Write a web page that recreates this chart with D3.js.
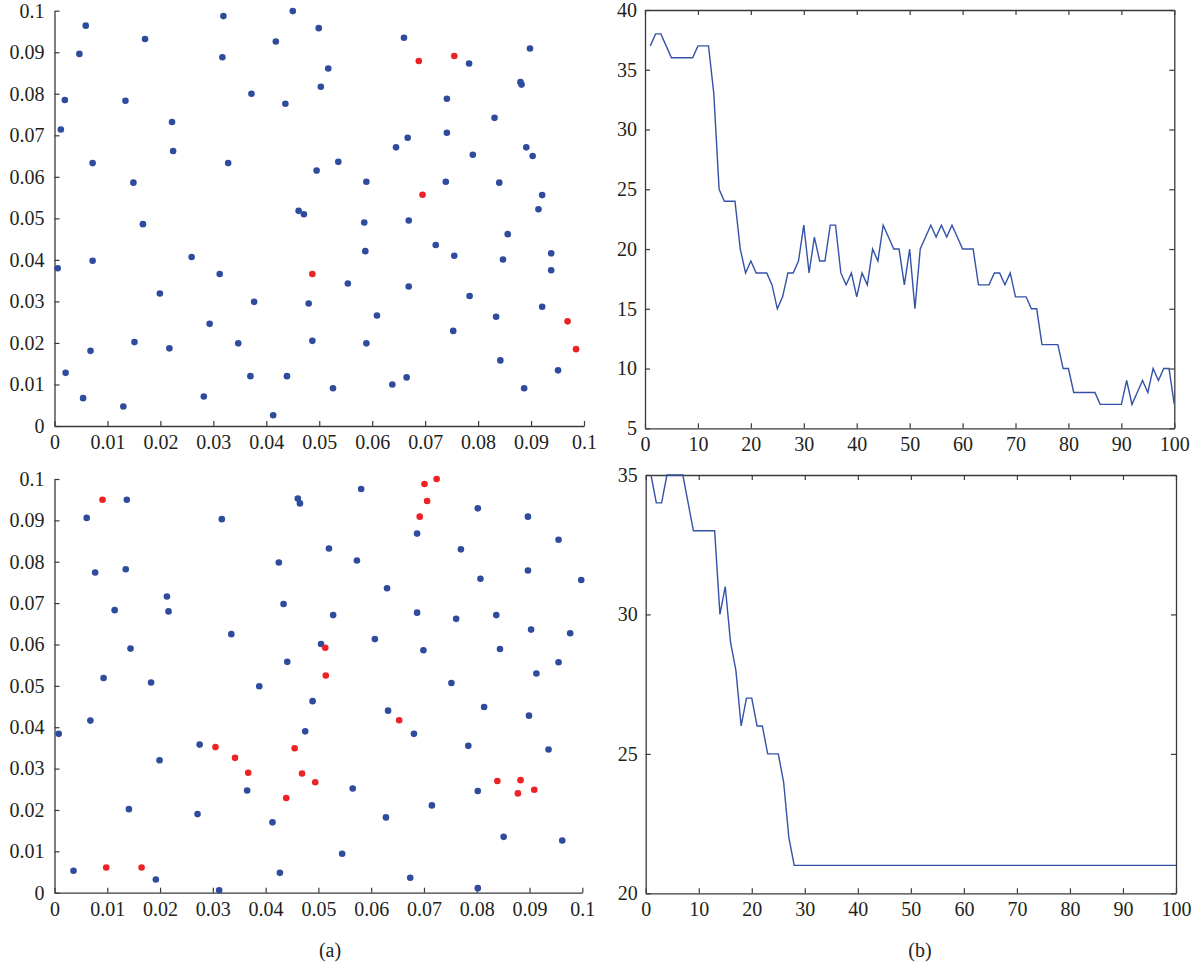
<!DOCTYPE html>
<html>
<head>
<meta charset="utf-8">
<script src="https://cdn.jsdelivr.net/npm/d3@7"></script>
<style>
  body { margin: 0; background: #fff; }
  svg text { font-family: "Liberation Serif", "Times New Roman", Times, "DejaVu Serif", serif; fill: #231f20; }
</style>
</head>
<body>
<svg id="chart" width="1202" height="970"></svg>
<script>
// ---- data: top-left scatter (x, y) ----
const topBlue = [
  [0.0012,0.0714],[0.00195,0.0785],[0.0047,0.0896],[0.0059,0.0964],[0.0072,0.0633],
  [0.0171,0.0932],[0.0134,0.0783],[0.0149,0.0586],[0.0222,0.0732],[0.0224,0.0662],
  [0.0167,0.0486],[0.0319,0.0987],[0.0317,0.0888],[0.0328,0.0633],[0.0372,0.0800],
  [0.0418,0.0926],[0.0436,0.0776],[0.0450,0.0999],[0.0461,0.0518],[0.0471,0.0510],
  [0.0495,0.0615],[0.0499,0.0958],[0.0517,0.0861],[0.0503,0.0817],[0.0660,0.0935],
  [0.0783,0.0873],[0.0898,0.0909],[0.0880,0.0828],[0.0882,0.0822],[0.0741,0.0788],
  [0.0831,0.0742],[0.0741,0.0706],[0.0667,0.0694],[0.0645,0.0671],[0.0891,0.0671],
  [0.0903,0.0650],[0.0790,0.0653],[0.0536,0.0636],[0.0589,0.0588],[0.0739,0.0588],
  [0.0840,0.0586],[0.0921,0.0556],[0.0914,0.0522],[0.0585,0.0490],[0.0669,0.0495],
  [0.0006,0.0380],[0.0072,0.0398],[0.0259,0.0407],[0.0199,0.0319],[0.0312,0.0366],
  [0.0377,0.0299],[0.0480,0.0295],[0.0487,0.0205],[0.0293,0.0246],[0.0151,0.0202],
  [0.0217,0.0187],[0.0068,0.0181],[0.0347,0.0199],[0.0021,0.0128],[0.0370,0.0120],
  [0.0439,0.0120],[0.0054,0.0067],[0.0282,0.0071],[0.0130,0.0047],[0.0413,0.0026],
  [0.0856,0.0462],[0.0720,0.0436],[0.0587,0.0421],[0.0755,0.0410],[0.0847,0.0401],
  [0.0938,0.0416],[0.0938,0.0375],[0.0554,0.0343],[0.0669,0.0336],[0.0784,0.0313],
  [0.0921,0.0287],[0.0609,0.0266],[0.0834,0.0263],[0.0753,0.0229],[0.0589,0.0199],
  [0.0842,0.0158],[0.0951,0.0134],[0.0665,0.0117],[0.0638,0.0100],[0.0526,0.0091],
  [0.0887,0.0091]
];
const topRed = [
  [0.0688,0.0879],[0.0755,0.0891],[0.0695,0.0557],[0.0487,0.0366],[0.0969,0.0252],[0.0985,0.0185]
];

// ---- data: bottom-left scatter (x, y) ----
const bottomBlue = [
  [0.0137,0.0950],[0.0061,0.0906],[0.0317,0.0903],[0.0461,0.0953],[0.0465,0.0941],
  [0.0077,0.0774],[0.0135,0.0782],[0.0425,0.0798],[0.0213,0.0716],[0.0216,0.0680],
  [0.0114,0.0683],[0.0434,0.0698],[0.0335,0.0625],[0.0144,0.0590],[0.0441,0.0558],
  [0.0093,0.0519],[0.0183,0.0508],[0.0388,0.0499],[0.0505,0.0601],[0.0581,0.0976],
  [0.0687,0.0868],[0.0802,0.0929],[0.0897,0.0909],[0.0955,0.0853],[0.0520,0.0832],
  [0.0573,0.0803],[0.0770,0.0830],[0.0897,0.0779],[0.0998,0.0756],[0.0807,0.0759],
  [0.0630,0.0736],[0.0528,0.0671],[0.0687,0.0677],[0.0761,0.0662],[0.0837,0.0671],
  [0.0903,0.0636],[0.0977,0.0627],[0.0607,0.0613],[0.0699,0.0586],[0.0844,0.0589],
  [0.0955,0.0557],[0.0913,0.0530],[0.0752,0.0507],[0.0008,0.0384],[0.0068,0.0416],
  [0.0489,0.0463],[0.0475,0.0390],[0.0275,0.0358],[0.0199,0.0320],[0.0365,0.0247],
  [0.0141,0.0202],[0.0271,0.0190],[0.0413,0.0170],[0.0036,0.0053],[0.0192,0.0032],
  [0.0312,0.0006],[0.0427,0.0048],[0.0632,0.0440],[0.0681,0.0384],[0.0814,0.0449],
  [0.0899,0.0428],[0.0784,0.0355],[0.0936,0.0346],[0.0565,0.0252],[0.0802,0.0246],
  [0.0715,0.0211],[0.0628,0.0182],[0.0851,0.0135],[0.0962,0.0126],[0.0545,0.0094],
  [0.0674,0.0036],[0.0802,0.0011]
];
const bottomRed = [
  [0.0091,0.0950],[0.0724,0.1000],[0.0701,0.0988],[0.0706,0.0947],[0.0692,0.0909],
  [0.0513,0.0592],[0.0514,0.0525],[0.0305,0.0352],[0.0342,0.0326],[0.0367,0.0290],
  [0.0455,0.0349],[0.0469,0.0288],[0.0494,0.0267],[0.0439,0.0229],[0.0098,0.0061],
  [0.0165,0.0061],[0.0653,0.0417],[0.0839,0.0270],[0.0883,0.0272],[0.0878,0.0240],
  [0.0909,0.0249]
];

// ---- data: line charts, iterations 1..100 ----
const topLine = [
  37,38,38,37,36,36,36,36,36,37, 37,37,33,25,24,24,24,20,18,19,
  18,18,18,17,15,16,18,18,19,22, 18,21,19,19,22,22,18,17,18,16,
  18,17,20,19,22,21,20,20,17,20, 15,20,21,22,21,22,21,22,21,20,
  20,20,17,17,17,18,18,17,18,16, 16,16,15,15,12,12,12,12,10,10,
  8,8,8,8,8,7,7,7,7,7, 9,7,8,9,8,10,9,10,10,7
];
const bottomLine = [
  35,34,34,35,35,35,35,34,33,33, 33,33,33,30,31,29,28,26,27,27,
  26,26,25,25,25,24,22,21,21,21, 21,21,21,21,21,21,21,21,21,21,
  21,21,21,21,21,21,21,21,21,21, 21,21,21,21,21,21,21,21,21,21,
  21,21,21,21,21,21,21,21,21,21, 21,21,21,21,21,21,21,21,21,21,
  21,21,21,21,21,21,21,21,21,21, 21,21,21,21,21,21,21,21,21,21
];

// ---- tick labels ----
const scatterTicks = [0,0.01,0.02,0.03,0.04,0.05,0.06,0.07,0.08,0.09,0.1];
const iterTicks = [0,10,20,30,40,50,60,70,80,90,100];
const topLineTicks = [5,10,15,20,25,30,35,40];
const bottomLineTicks = [20,25,30,35];
const captions = ["(a)", "(b)"];

const blue = "#2f4b9e", red = "#ec2227", lineColor = "#3352a8", axisColor = "#3a3a3a";
const serif = '"Liberation Serif", "Times New Roman", Times, "DejaVu Serif", serif';
const svg = d3.select("#chart");
const fs = 20;
const scatterFmt = d => d === 0 ? "0" : d3.format("~g")(d);

function styleAxis(g) {
  g.attr("font-family", null).attr("font-size", null);
  g.selectAll(".domain").attr("stroke", axisColor).attr("stroke-width", 1.3);
  g.selectAll(".tick line").attr("stroke", axisColor).attr("stroke-width", 1.2);
  g.selectAll(".tick text").style("font-size", fs + "px").style("font-family", serif)
    .attr("fill", "#231f20");
}

function panel(p) {
  const x = d3.scaleLinear().domain(p.xDomain).range(p.xRange);
  const y = d3.scaleLinear().domain(p.yDomain).range(p.yRange);
  const g = svg.append("g");

  const bottom = g.append("g").attr("transform", `translate(0,${p.yRange[0]})`)
    .call(d3.axisBottom(x).tickValues(p.xTicks).tickFormat(p.xFmt)
      .tickSizeInner(-5).tickSizeOuter(0).tickPadding(9));
  const left = g.append("g").attr("transform", `translate(${p.xRange[0]},0)`)
    .call(d3.axisLeft(y).tickValues(p.yTicks).tickFormat(p.yFmt)
      .tickSizeInner(-5).tickSizeOuter(0).tickPadding(p.yPad));
  styleAxis(bottom); styleAxis(left);

  if (p.box) {
    const top = g.append("g").attr("transform", `translate(0,${p.yRange[1]})`)
      .call(d3.axisTop(x).tickValues(p.xTicks).tickFormat("").tickSizeInner(-5).tickSizeOuter(0));
    const right = g.append("g").attr("transform", `translate(${p.xRange[1]},0)`)
      .call(d3.axisRight(y).tickValues(p.yTicks).tickFormat("").tickSizeInner(-5).tickSizeOuter(0));
    styleAxis(top); styleAxis(right);
  }
  return { g, x, y };
}

function scatter(p, blues, reds) {
  const { g, x, y } = panel(p);
  g.append("g").selectAll("circle").data(blues).enter().append("circle")
    .attr("cx", d => x(d[0])).attr("cy", d => y(d[1])).attr("r", 3.3).attr("fill", blue);
  g.append("g").selectAll("circle").data(reds).enter().append("circle")
    .attr("cx", d => x(d[0])).attr("cy", d => y(d[1])).attr("r", 3.3).attr("fill", red);
}

function linePlot(p, values) {
  const { g, x, y } = panel(p);
  const line = d3.line().x((d, i) => x(i + 1)).y(d => y(d));
  g.append("path").datum(values).attr("d", line)
    .attr("fill", "none").attr("stroke", lineColor).attr("stroke-width", 1.4);
}

scatter({ xDomain: [0, 0.1], yDomain: [0, 0.1], xRange: [54.5, 584], yRange: [426, 10.7],
  xTicks: scatterTicks, yTicks: scatterTicks, xFmt: scatterFmt, yFmt: scatterFmt, yPad: 10 },
  topBlue, topRed);
scatter({ xDomain: [0, 0.1], yDomain: [0, 0.1], xRange: [54.5, 582.3], yRange: [892.7, 479],
  xTicks: scatterTicks, yTicks: scatterTicks, xFmt: scatterFmt, yFmt: scatterFmt, yPad: 10 },
  bottomBlue, bottomRed);

linePlot({ xDomain: [0, 100], yDomain: [5, 40], xRange: [645, 1174.3], yRange: [428.3, 10],
  xTicks: iterTicks, yTicks: topLineTicks, xFmt: d3.format("d"), yFmt: d3.format("d"), yPad: 8, box: true },
  topLine);
linePlot({ xDomain: [0, 100], yDomain: [20, 35], xRange: [645.7, 1176], yRange: [893.3, 475],
  xTicks: iterTicks, yTicks: bottomLineTicks, xFmt: d3.format("d"), yFmt: d3.format("d"), yPad: 8, box: true },
  bottomLine);

svg.selectAll(".caption").data(captions).enter().append("text")
  .attr("class", "caption")
  .attr("x", (d, i) => i === 0 ? 330 : 920)
  .attr("y", 957)
  .attr("text-anchor", "middle")
  .style("font-size", fs + "px")
  .style("font-family", serif)
  .text(d => d);
</script>
</body>
</html>
